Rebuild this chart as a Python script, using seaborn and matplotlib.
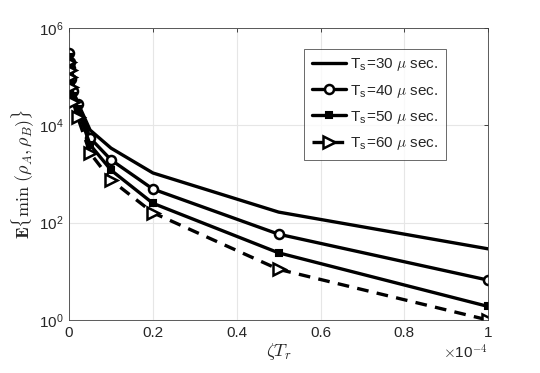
import numpy as np
import pandas as pd
import seaborn as sns
import matplotlib.pyplot as plt
from matplotlib.ticker import FixedLocator, FuncFormatter, NullLocator

# zeta*T_r in units of 1e-4
zeta_tr = [0, 0.001, 0.002, 0.005, 0.01, 0.02, 0.05, 0.1, 0.2, 0.5, 1.0]
ts30 = [2.5e5, 1.8e5, 1.3e5, 8e4, 5e4, 3e4, 8000, 3400, 1050, 165, 29]
ts40 = [3e5, 2e5, 1.5e5, 9e4, 5e4, 2.8e4, 5500, 1950, 490, 58, 6.6]
ts50 = [2.5e5, 1.8e5, 1.2e5, 7e4, 4e4, 2.2e4, 4000, 1200, 250, 24, 1.9]
ts60 = [2e5, 1.4e5, 1e5, 6e4, 3e4, 1.5e4, 2700, 750, 160, 11, 1.0]

labels = [r'T$_\mathregular{s}$=30 $\mu$ sec.', r'T$_\mathregular{s}$=40 $\mu$ sec.',
          r'T$_\mathregular{s}$=50 $\mu$ sec.', r'T$_\mathregular{s}$=60 $\mu$ sec.']

sns.set_theme(style='whitegrid')
plt.rcParams['font.family'] = ['Liberation Sans', 'DejaVu Sans']
plt.rcParams['mathtext.fontset'] = 'cm'

fig = plt.figure(figsize=(5.4, 3.73), dpi=100)
ax = fig.add_axes([0.128, 0.142, 0.776, 0.783])

styles = [
    dict(marker=None, linestyle='-'),
    dict(marker='o', linestyle='-', markerfacecolor='white', markersize=6.5, markeredgewidth=1.8),
    dict(marker='s', linestyle='-', markerfacecolor='black', markersize=5, markeredgewidth=1.5),
    dict(marker='>', linestyle=(0, (3.5, 2.5)), markerfacecolor='white', markersize=8, markeredgewidth=1.8),
]
for y, lab, st in zip([ts30, ts40, ts50, ts60], labels, styles):
    sns.lineplot(x=zeta_tr, y=y, ax=ax, color='black', linewidth=2.4,
                 markeredgecolor='black', label=lab, **st)

ax.set_yscale('log')
ax.set_xlim(0, 1)
ax.set_ylim(1, 1e6)
ax.yaxis.set_major_locator(FixedLocator([1, 1e2, 1e4, 1e6]))
ax.yaxis.set_minor_locator(NullLocator())
ax.set_xticks([0, 0.2, 0.4, 0.6, 0.8, 1.0])
ax.xaxis.set_major_formatter(FuncFormatter(lambda v, p: '%g' % v))
ax.grid(True, color='#e6e6e6', linewidth=0.8)
for s in ax.spines.values():
    s.set_color('#404040')
    s.set_linewidth(0.6)
ax.tick_params(direction='in', length=3, width=0.6, top=True, right=True,
               labelsize=11, colors='#262626', pad=4)

ax.set_xlabel(r'$\zeta T_r$', fontsize=13, color='#262626', labelpad=1)
ax.set_ylabel(r'$\mathbf{E}\{\min\ (\rho_A,\rho_B)\}$', fontsize=13, color='#262626', labelpad=2)
ax.text(1.0, -0.11, r'$\times$10$^{-4}$', transform=ax.transAxes, ha='right', va='center',
        fontsize=11, color='#262626')

leg = ax.legend(loc='upper right', bbox_to_anchor=(0.918, 0.955), fontsize=11,
                frameon=True, fancybox=False, handlelength=2.2, borderpad=0.5,
                labelspacing=0.6, handletextpad=0.3)
leg.get_frame().set_edgecolor('#262626')
leg.get_frame().set_linewidth(0.6)

fig.savefig('out.png', dpi=100)
